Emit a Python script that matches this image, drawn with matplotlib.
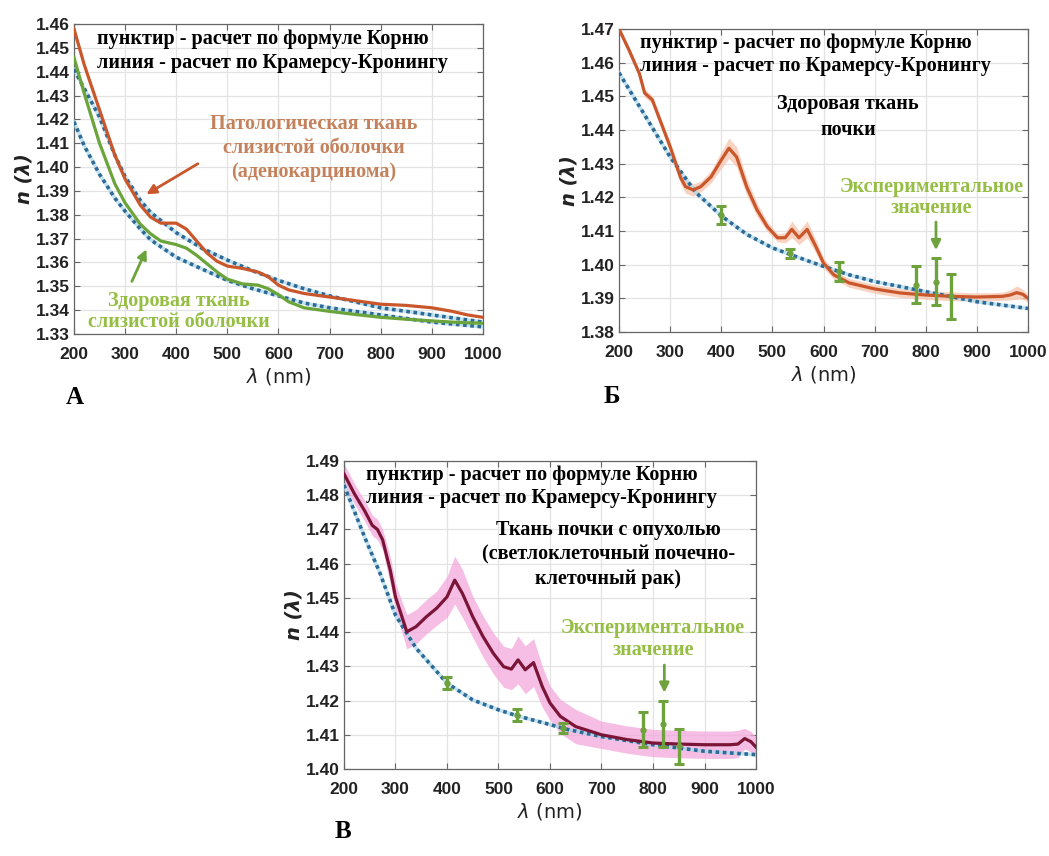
import numpy as np
import matplotlib
matplotlib.use("Agg")
import matplotlib.pyplot as plt
from matplotlib.ticker import FormatStrFormatter

# ---- panel A: mucosa, healthy vs adenocarcinoma ----
wl_a = [200, 220, 250, 280, 300, 330, 350, 370, 400, 420,
        440, 460, 480, 500, 530, 560, 580, 600, 620, 650,
        700, 750, 800, 850, 900, 940, 970, 1000]
n_a_tumor = [1.458, 1.443, 1.424, 1.405, 1.395, 1.384, 1.379, 1.3765, 1.3765, 1.374,
             1.369, 1.364, 1.3605, 1.3585, 1.3575, 1.356, 1.354, 1.3505, 1.3485, 1.347,
             1.3455, 1.344, 1.3425, 1.342, 1.341, 1.3395, 1.338, 1.337]
n_a_healthy = [1.446, 1.431, 1.410, 1.393, 1.385, 1.376, 1.372, 1.369, 1.3675, 1.366,
               1.363, 1.3595, 1.356, 1.353, 1.351, 1.3505, 1.349, 1.3465, 1.3435, 1.341,
               1.3395, 1.3382, 1.337, 1.3362, 1.3355, 1.335, 1.3347, 1.3345]

wl_a_fit = [200, 220, 250, 280, 300, 330, 350, 400, 450, 500,
            550, 600, 650, 700, 800, 900, 1000]
n_a_tumor_fit = [1.441, 1.433, 1.421, 1.405, 1.396, 1.386, 1.381, 1.3725, 1.366, 1.361,
                 1.3565, 1.3525, 1.349, 1.346, 1.341, 1.338, 1.335]
n_a_healthy_fit = [1.419, 1.409, 1.397, 1.387, 1.3815, 1.374, 1.3695, 1.3622, 1.3573, 1.3525,
                   1.349, 1.346, 1.343, 1.341, 1.338, 1.335, 1.333]

# ---- panel Б: healthy kidney ----
wl_b = [200, 220, 240, 250, 265, 280, 300, 320, 330, 345,
        360, 380, 400, 415, 430, 450, 470, 490, 510, 525,
        538, 552, 568, 585, 600, 620, 650, 700, 750, 800,
        850, 900, 950, 965, 978, 990, 1000]
n_b = [1.470, 1.4636, 1.4567, 1.451, 1.449, 1.443, 1.435, 1.426, 1.4232, 1.4222,
       1.4232, 1.4261, 1.4311, 1.4346, 1.432, 1.423, 1.4163, 1.4113, 1.408, 1.408,
       1.4105, 1.408, 1.4105, 1.4054, 1.4005, 1.397, 1.3946, 1.3928, 1.3916, 1.391,
       1.3906, 1.3904, 1.3906, 1.391, 1.3917, 1.3912, 1.390]
dn_b = [0.001, 0.001, 0.001, 0.0012, 0.0012, 0.0013, 0.0015, 0.0018, 0.002, 0.0018,
        0.0016, 0.0018, 0.0025, 0.003, 0.003, 0.0025, 0.002, 0.0015, 0.0012, 0.0015,
        0.0025, 0.002, 0.0025, 0.002, 0.0015, 0.0013, 0.0013, 0.0013, 0.0013, 0.0013,
        0.0013, 0.0012, 0.0012, 0.0015, 0.002, 0.0015, 0.0012]

wl_b_fit = [200, 250, 300, 350, 400, 450, 500, 550, 600, 650,
            700, 750, 800, 850, 900, 950, 1000]
n_b_fit = [1.457, 1.4445, 1.432, 1.4215, 1.4145, 1.409, 1.405, 1.4022, 1.3995, 1.397,
           1.395, 1.3935, 1.392, 1.3905, 1.389, 1.388, 1.387]

wl_b_exp = [400, 535, 630, 780, 820, 850]
n_b_exp = [1.4148, 1.4034, 1.398, 1.394, 1.395, 1.3906]
err_b_exp = [0.0027, 0.0014, 0.0029, 0.0055, 0.0071, 0.0067]

# ---- panel В: kidney with clear cell carcinoma ----
wl_c = [200, 220, 240, 255, 265, 275, 290, 300, 322, 340,
        360, 380, 400, 415, 430, 450, 470, 490, 510, 525,
        538, 552, 568, 585, 600, 620, 650, 700, 750, 800,
        850, 900, 950, 965, 978, 990, 1000]
n_c = [1.4863, 1.4805, 1.4755, 1.4712, 1.4700, 1.467, 1.458, 1.4503, 1.4401, 1.4416,
       1.4445, 1.447, 1.4503, 1.4552, 1.4513, 1.4445, 1.4387, 1.4338, 1.4299, 1.4292,
       1.4319, 1.429, 1.4311, 1.4241, 1.4193, 1.4154, 1.4124, 1.410, 1.4086, 1.4076,
       1.4073, 1.4071, 1.4071, 1.4073, 1.4089, 1.408, 1.4064]
dn_c = [0.003, 0.003, 0.003, 0.003, 0.003, 0.003, 0.004, 0.004, 0.005, 0.005,
        0.005, 0.005, 0.006, 0.007, 0.007, 0.006, 0.006, 0.006, 0.006, 0.006,
        0.007, 0.007, 0.007, 0.006, 0.005, 0.005, 0.005, 0.004, 0.004, 0.004,
        0.004, 0.004, 0.004, 0.004, 0.003, 0.003, 0.003]

wl_c_fit = [200, 240, 270, 300, 340, 400, 450, 500, 535, 600,
            630, 700, 800, 900, 1000]
n_c_fit = [1.483, 1.4678, 1.4572, 1.445, 1.4353, 1.4251, 1.4202, 1.4173, 1.4156, 1.413,
           1.4117, 1.4095, 1.4071, 1.4052, 1.4042]

wl_c_exp = [400, 535, 625, 780, 820, 850]
n_c_exp = [1.4251, 1.4158, 1.412, 1.4115, 1.4132, 1.4066]
err_c_exp = [0.0017, 0.0018, 0.0015, 0.0051, 0.0068, 0.0052]

ORANGE = "#C9572B"
GREEN_LINE = "#6BA43A"
GREEN_TEXT = "#96BE45"
ERR_GREEN = "#6EA23C"
DOT_BLUE = "#2E6A96"
DOT_HALO = "#A9D7EA"
MAROON = "#7A1537"
SERIF = "Liberation Serif"
FS = 14.5

legend_lines = "пунктир - расчет по формуле Корню\nлиния - расчет по Крамерсу-Кронингу"


def style_axes(ax, ymin, ymax):
    ax.set_xlim(200, 1000)
    ax.set_ylim(ymin, ymax)
    ax.set_xticks(range(200, 1001, 100))
    ax.set_yticks(np.round(np.arange(ymin, ymax + 0.001, 0.01), 2))
    ax.yaxis.set_major_formatter(FormatStrFormatter("%.2f"))
    ax.grid(True, color="#e3e3e3", linewidth=0.9)
    ax.set_axisbelow(True)
    for s in ax.spines.values():
        s.set_color("#666666")
        s.set_linewidth(0.9)
    ax.tick_params(direction="in", top=True, right=True, length=4, width=0.8,
                   color="#666666", labelsize=12.5, labelcolor="#222222")
    ax.tick_params(axis="x", pad=9)
    ax.tick_params(axis="y", pad=3)
    for lab in ax.get_xticklabels() + ax.get_yticklabels():
        lab.set_fontweight("bold")
        lab.set_fontfamily("Liberation Sans")
    ax.set_xlabel(r"$\lambda$ (nm)", fontsize=14, color="#222222", labelpad=3)
    ax.set_ylabel("n (λ)", fontsize=14, fontweight="bold", fontstyle="italic",
                  color="#222222", labelpad=2)


def dotted(ax, x, y):
    ax.plot(x, y, color=DOT_HALO, lw=2.6, alpha=0.7, zorder=3)
    ax.plot(x, y, color=DOT_BLUE, lw=2.6, ls=(0, (1, 1)), dash_capstyle="butt", zorder=4)


def exp_points(ax, x, y, err):
    ax.errorbar(x, y, yerr=err, fmt="o", ms=3.5, color=ERR_GREEN, ecolor=ERR_GREEN,
                elinewidth=2.4, capsize=3.5, capthick=2.2, zorder=6)


fig = plt.figure(figsize=(10.49, 8.56), dpi=100)

# A
ax_a = fig.add_axes([0.0705, 0.6098, 0.3899, 0.3621])
style_axes(ax_a, 1.33, 1.46)
dotted(ax_a, wl_a_fit, n_a_tumor_fit)
dotted(ax_a, wl_a_fit, n_a_healthy_fit)
ax_a.plot(wl_a, n_a_tumor, color=ORANGE, lw=2.3, zorder=5)
ax_a.plot(wl_a, n_a_healthy, color=GREEN_LINE, lw=2.3, zorder=5)
ax_a.text(245, 1.458, legend_lines, family=SERIF, weight="bold", fontsize=FS,
          va="top", ha="left", linespacing=1.25)
ax_a.text(669, 1.408, "Патологическая ткань\nслизистой оболочки\n(аденокарцинома)",
          family=SERIF, weight="bold", fontsize=FS, color="#C4825C",
          ha="center", va="center", linespacing=1.25)
ax_a.annotate("", xy=(337, 1.388), xytext=(447, 1.402),
              arrowprops=dict(arrowstyle="-|>", color=ORANGE, lw=2, mutation_scale=14))
ax_a.text(405, 1.3395, "Здоровая ткань\nслизистой оболочки", family=SERIF,
          weight="bold", fontsize=FS, color=GREEN_TEXT, ha="center", va="center",
          linespacing=1.1)
ax_a.annotate("", xy=(344, 1.3666), xytext=(311, 1.351),
              arrowprops=dict(arrowstyle="-|>", color=GREEN_LINE, lw=2, mutation_scale=14))
fig.text(0.0715, 0.536, "A", family=SERIF, weight="bold", fontsize=18,
         ha="center", va="center")

# Б
ax_b = fig.add_axes([0.5901, 0.6121, 0.3899, 0.354])
style_axes(ax_b, 1.38, 1.47)
lo_b = [v - d for v, d in zip(n_b, dn_b)]
hi_b = [v + d for v, d in zip(n_b, dn_b)]
ax_b.fill_between(wl_b, lo_b, hi_b, color="#F7C4AC", alpha=0.75, lw=0, zorder=2)
dotted(ax_b, wl_b_fit, n_b_fit)
ax_b.plot(wl_b, n_b, color=ORANGE, lw=2.3, zorder=5)
exp_points(ax_b, wl_b_exp, n_b_exp, err_b_exp)
ax_b.text(242, 1.4688, legend_lines, family=SERIF, weight="bold", fontsize=FS,
          va="top", ha="left", linespacing=1.2)
ax_b.text(648, 1.4438, "Здоровая ткань\nпочки", family=SERIF, weight="bold",
          fontsize=FS, ha="center", va="center", linespacing=1.4)
ax_b.text(811, 1.420, "Экспериментальное\nзначение", family=SERIF, weight="bold",
          fontsize=FS, color=GREEN_TEXT, ha="center", va="center", linespacing=1.1)
ax_b.annotate("", xy=(820, 1.4035), xytext=(820, 1.4135),
              arrowprops=dict(arrowstyle="-|>", color=ERR_GREEN, lw=2, mutation_scale=14))
fig.text(0.5834, 0.537, "Б", family=SERIF, weight="bold", fontsize=18,
         ha="center", va="center")

# В
ax_c = fig.add_axes([0.3279, 0.1016, 0.3928, 0.3598])
style_axes(ax_c, 1.40, 1.49)
lo_c = [v - d for v, d in zip(n_c, dn_c)]
hi_c = [v + d for v, d in zip(n_c, dn_c)]
ax_c.fill_between(wl_c, lo_c, hi_c, color="#F3A8DC", alpha=0.75, lw=0, zorder=2)
dotted(ax_c, wl_c_fit, n_c_fit)
ax_c.plot(wl_c, n_c, color=MAROON, lw=2.3, zorder=5)
exp_points(ax_c, wl_c_exp, n_c_exp, err_c_exp)
ax_c.text(243, 1.4888, legend_lines, family=SERIF, weight="bold", fontsize=FS,
          va="top", ha="left", linespacing=1.2)
ax_c.text(713, 1.4628, "Ткань почки с опухолью\n(светлоклеточный почечно-\nклеточный рак)",
          family=SERIF, weight="bold", fontsize=FS, ha="center", va="center",
          linespacing=1.3)
ax_c.text(800, 1.438, "Экспериментальное\nзначение", family=SERIF, weight="bold",
          fontsize=FS, color=GREEN_TEXT, ha="center", va="center", linespacing=1.1)
ax_c.annotate("", xy=(822, 1.4215), xytext=(822, 1.4312),
              arrowprops=dict(arrowstyle="-|>", color=ERR_GREEN, lw=2, mutation_scale=14))
fig.text(0.327, 0.015, "В", family=SERIF, weight="bold", fontsize=18,
         ha="center", va="bottom")

fig.savefig("out.png", dpi=100, facecolor="white")
